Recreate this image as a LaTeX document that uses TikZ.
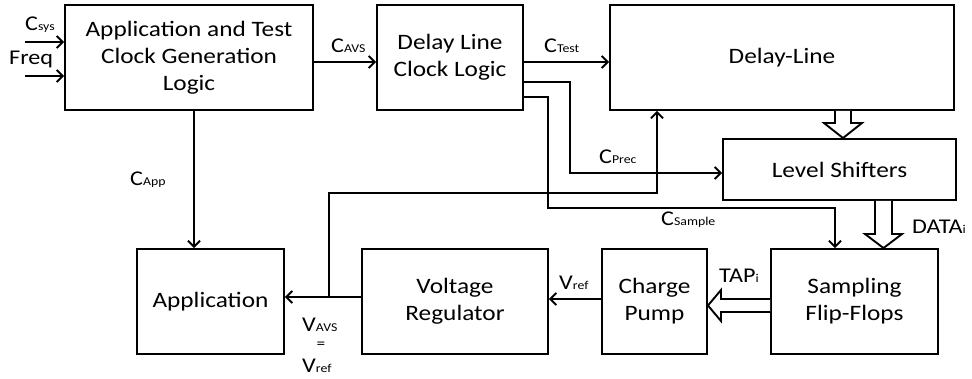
\documentclass[tikz,border=0pt]{standalone}
\usepackage{fontspec}
\setmainfont{Carlito}[FakeStretch=1.15]
\usetikzlibrary{arrows.meta,calc}
\newcommand\sbs[1]{\raisebox{-0.8pt}{\fontsize{12}{12}\selectfont #1}}
\begin{document}
\begin{tikzpicture}[x=1pt,y=-1pt,
  box/.style={draw,line width=1.9pt,inner sep=0pt,align=center,
    font=\fontsize{22}{27}\selectfont},
  lbl/.style={inner sep=0pt,anchor=base west,font=\fontsize{21}{22}\selectfont},
  arr/.style={line width=1.9pt,-{Straight Barb[length=6pt,width=12pt,line width=1.9pt]}},
  hollow/.style={draw,line width=1.9pt,fill=white,line join=miter}]
\useasboundingbox (0,0) rectangle (972,378);

% blocks
\node[box,minimum width=248pt,minimum height=105pt] (clk) at (189,57.5) {Application and Test\\Clock Generation\\Logic};
\node[box,minimum width=146pt,minimum height=105pt] (dlc) at (450,57.5) {Delay Line\\Clock Logic};
\node[box,minimum width=344pt,minimum height=105pt] (dl) at (782,57.5) {Delay-Line};
\node[box,minimum width=233pt,minimum height=61pt] (ls) at (839.5,169.5) {Level Shifters};
\node[box,minimum width=167pt,minimum height=105pt] (sff) at (854.5,301.5) {Sampling\\Flip-Flops};
\node[box,minimum width=105pt,minimum height=105pt] (cp) at (654.5,301.5) {Charge\\Pump};
\node[box,minimum width=186pt,minimum height=105pt] (vr) at (455,301.5) {Voltage\\Regulator};
\node[box,minimum width=147pt,minimum height=105pt] (app) at (210.5,301.5) {Application};

% inputs
\coordinate (csysin) at (25,42);
\coordinate (freqin) at (25,76);
\draw[arr] (csysin) -- (csysin -| clk.west);
\draw[arr] (freqin) -- (freqin -| clk.west);

% clocks
\draw[arr] (clk.east |- 0,62) -- (dlc.west |- 0,62);
\draw[arr] (dlc.east |- 0,62) -- (dl.west |- 0,62);
\draw[arr] (dlc.east |- 0,82) -- (570,82) -- (570,173) -- (ls.west |- 0,173);
\draw[arr] (dlc.east |- 0,97) -- (548,97) -- (548,208) -- (835,208) -- (sff.north -| 835,0);
\draw[arr] (clk.south -| 194,0) -- (app.north -| 194,0);

% voltages
\draw[arr] (vr.west |- 0,297) -- (app.east |- 0,297);
\coordinate (vj) at (329,297);
\draw[arr] (vj) -- (329,193) -- (657,193) -- (dl.south -| 657,0);
\draw[arr] (cp.west |- 0,299) -- (vr.east |- 0,299);

% hollow bus arrows
\draw[hollow] (dl.south -| 835,0) -- (835,123) -- (824,123) -- (ls.north -| 843,0) -- (862,123) -- (851,123) -- (dl.south -| 851,0);
\draw[hollow] (ls.south -| 875,0) -- (875,234) -- (865,234) -- (sff.north -| 883.5,0) -- (902,234) -- (892,234) -- (ls.south -| 892,0);
\draw[hollow] (sff.west |- 0,299) -- (721,299) -- (721,290) -- (cp.east |- 0,305.5) -- (721,321) -- (721,312) -- (sff.west |- 0,312);

% labels
\node[lbl] (lcsys) at (25,30) {C\sbs{sys}};
\node[lbl] (lfreq) at (9,64) {Freq};
\node[lbl] (lcavs) at (331,52) {C\sbs{AVS}};
\node[lbl] (lctest) at (544,52) {C\sbs{Test}};
\node[lbl] (lcprec) at (599,163) {C\sbs{Prec}};
\node[lbl] (lcapp) at (130,185) {C\sbs{App}};
\node[lbl] (lcsample) at (661,225) {C\sbs{Sample}};
\node[lbl] (ldata) at (912,233) {DATA\sbs{i}};
\node[lbl] (ltap) at (719,282) {TAP\sbs{i}};
\node[lbl] (lvref) at (559,289) {V\sbs{ref}};
\node[lbl] (lvavs) at (302,331) {V\sbs{AVS}};
\node[inner sep=0pt,font=\fontsize{15}{15}\selectfont] (leq) at (321,345) {=};
\node[lbl] (lvref2) at (302,372) {V\sbs{ref}};
\end{tikzpicture}
\end{document}
